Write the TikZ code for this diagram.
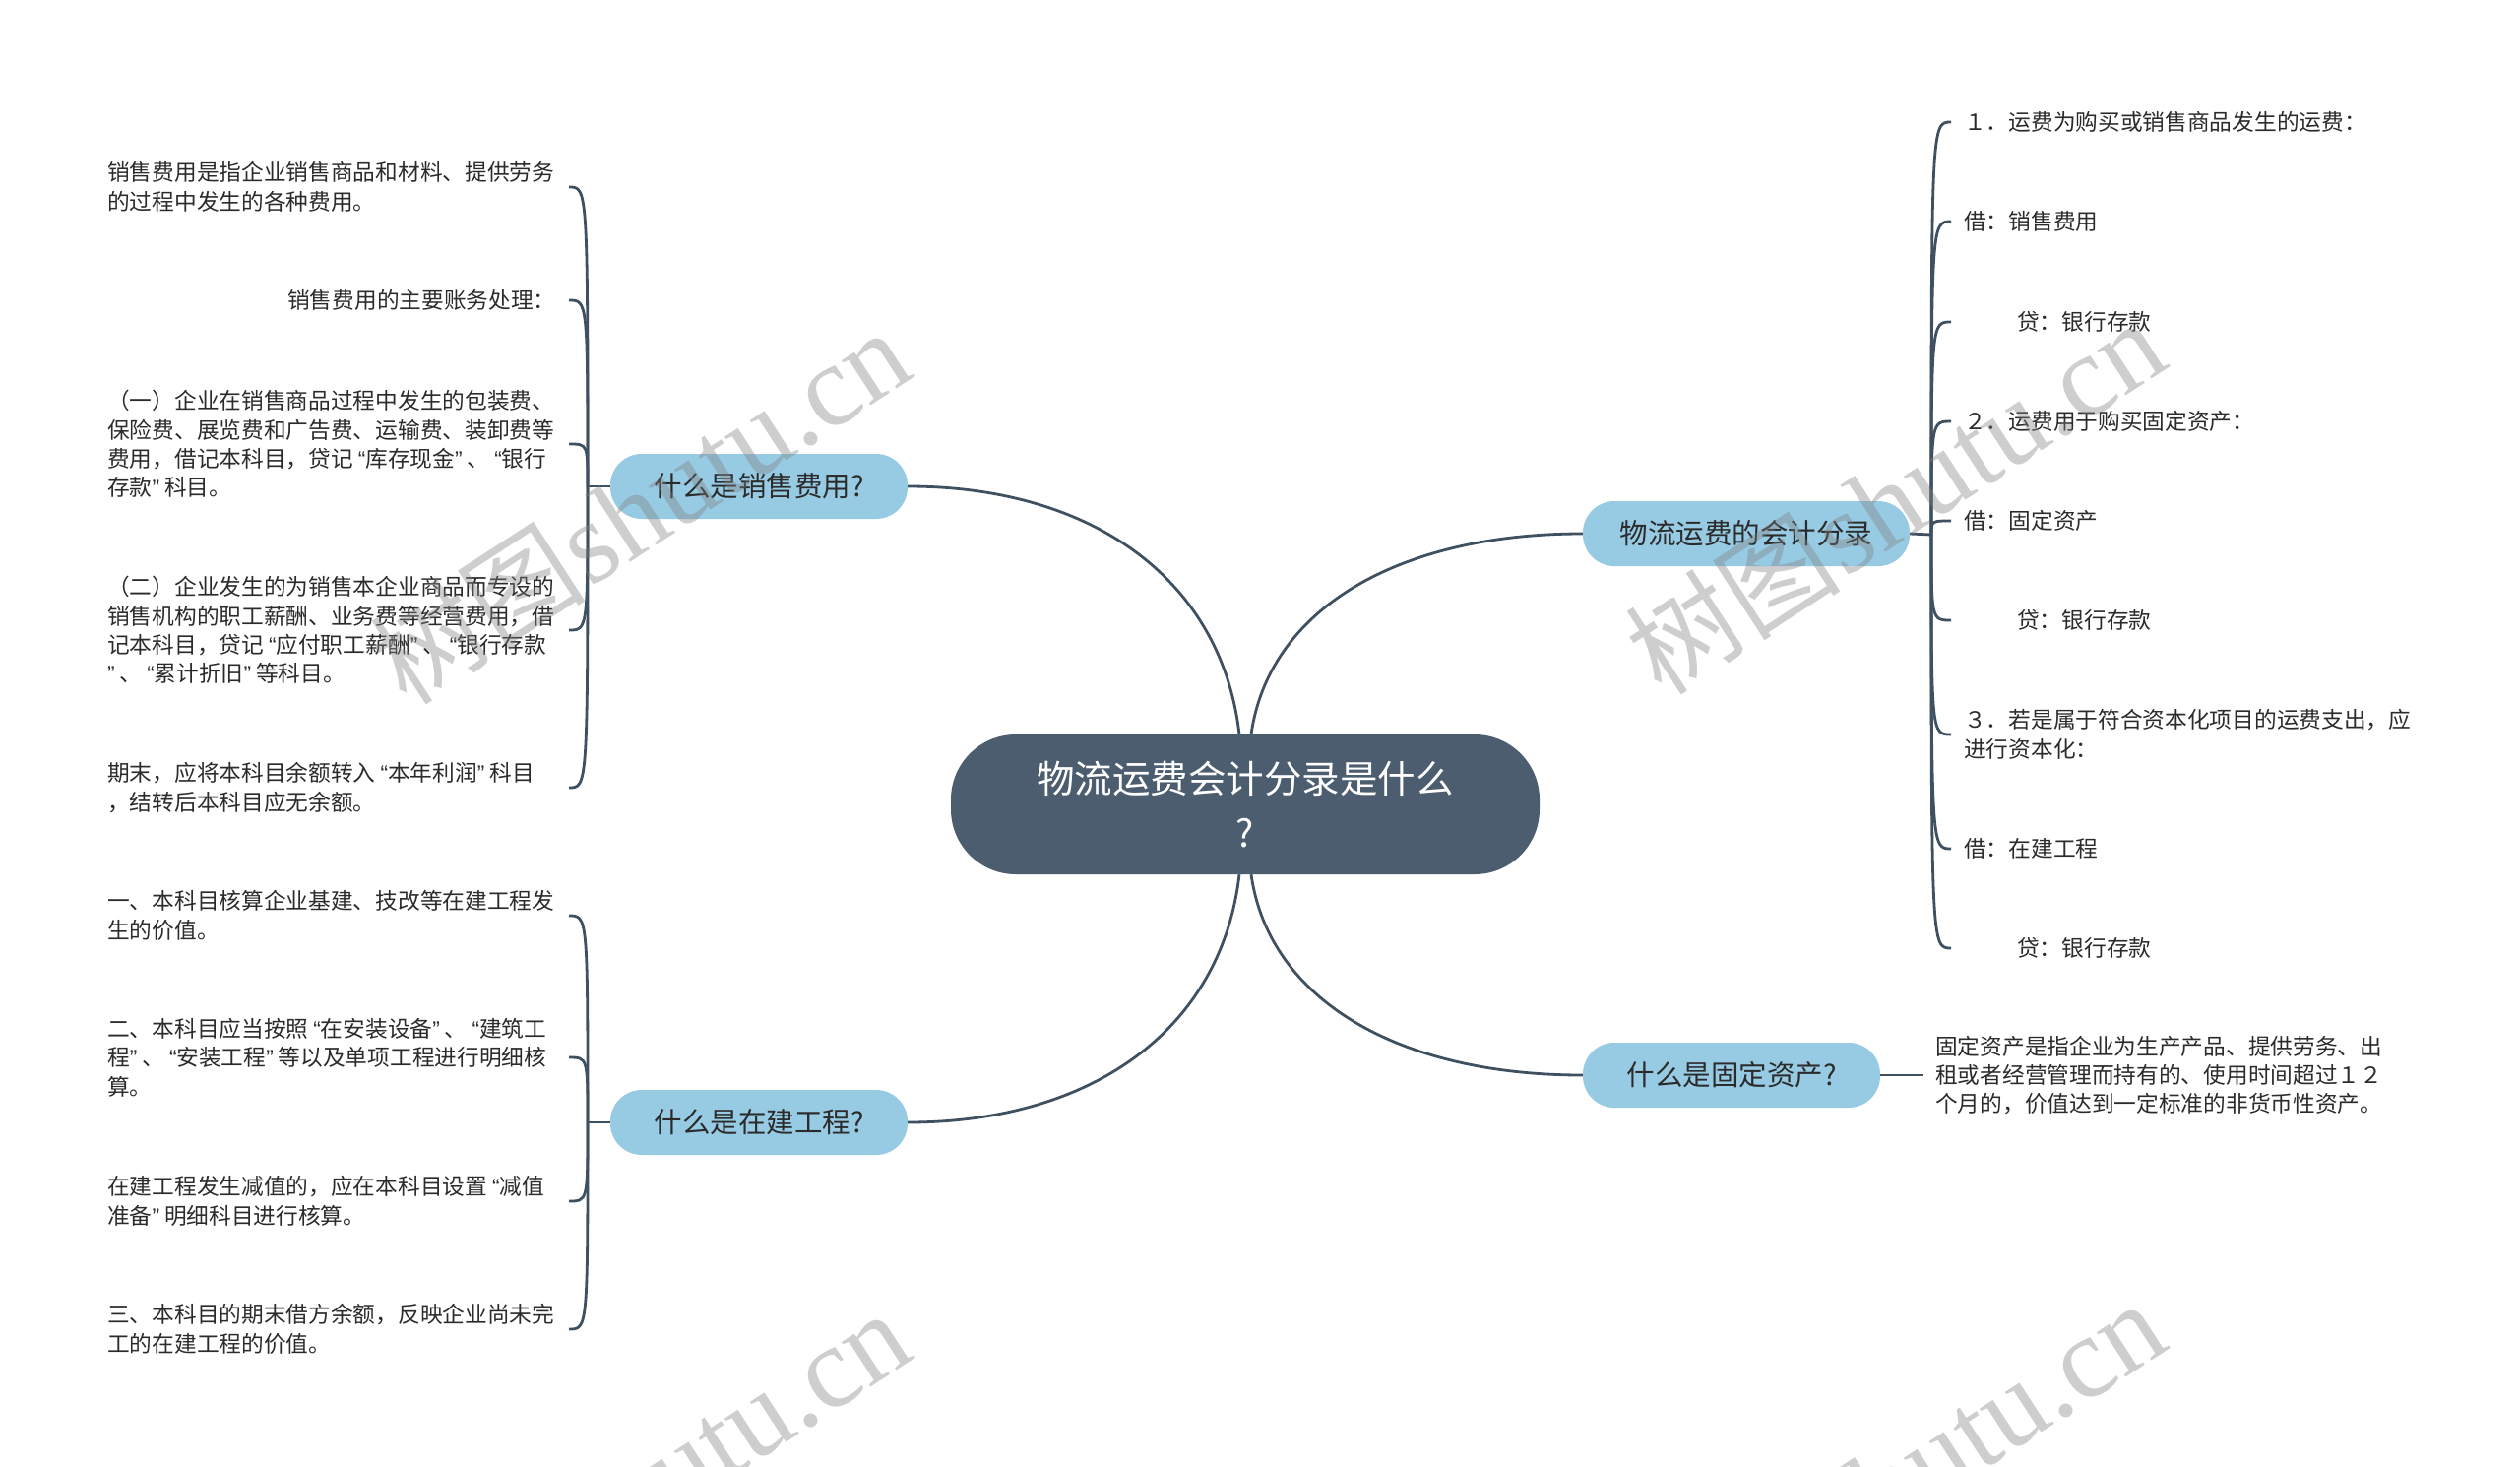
\documentclass[tikz,border=0pt]{standalone}
\usepackage{fontspec}
\setmainfont{Noto Sans CJK SC}
\newfontfamily\wmserif{Liberation Serif}
\newfontfamily\wmcjk{Noto Sans CJK SC}
\newfontfamily\qtfont{Liberation Sans}
\newcommand{\lqt}{\makebox[0.55em][r]{\qtfont “}}
\newcommand{\rqt}{\makebox[0.55em][l]{\qtfont ”}}
\definecolor{centerfill}{HTML}{4B5D6E}
\definecolor{conncol}{HTML}{3F5161}
\definecolor{mainfill}{HTML}{97CBE3}
\definecolor{leaftext}{HTML}{2B2B2B}
\begin{document}
\begin{tikzpicture}[x=1pt,y=-1pt,
  conn/.style={draw=conncol,line width=2.8pt},
  centernode/.style={fill=centerfill, rounded corners=66pt, minimum width=598pt, minimum height=142pt, text=white, font=\fontsize{38.5}{55}\selectfont, align=center, inner sep=0pt},
  mainnode/.style={fill=mainfill, rounded corners=32pt, minimum height=66pt, text=leaftext, font=\fontsize{28.5}{34}\selectfont, inner sep=0pt},
  leaf/.style={anchor=west, align=left, inner sep=0pt, text=leaftext, font=\fontsize{22.7}{29.4}\selectfont},
  wmark/.style={text=black!50, opacity=0.38, rotate=33, inner sep=0pt}
]
\fill[white] (0,0) rectangle (2560,1489);
\useasboundingbox (0,0) rectangle (2560,1489);

% central and main topics
\node[centernode] (c) at (1265,817) {物流运费会计分录是什么\\?};
\node[mainnode, minimum width=302pt] (s1) at (771,494) {什么是销售费用?};
\node[mainnode, minimum width=302pt] (s3) at (771,1140) {什么是在建工程?};
\node[mainnode, minimum width=332pt] (s2) at (1774,542) {物流运费的会计分录};
\node[mainnode, minimum width=302pt] (s4) at (1759,1092) {什么是固定资产?};

% left leaves (sales expenses)
\node[leaf] (L1) at (109,190) {销售费用是指企业销售商品和材料、提供劳务\\的过程中发生的各种费用。};
\node[leaf] (L2) at (292,305) {销售费用的主要账务处理：};
\node[leaf] (L3) at (109,451) {（一）企业在销售商品过程中发生的包装费、\\保险费、展览费和广告费、运输费、装卸费等\\费用，借记本科目，贷记\lqt 库存现金\rqt 、\lqt 银行\\存款\rqt 科目。};
\node[leaf] (L4) at (109,640) {（二）企业发生的为销售本企业商品而专设的\\销售机构的职工薪酬、业务费等经营费用，借\\记本科目，贷记\lqt 应付职工薪酬\rqt 、\lqt 银行存款\\\rqt 、\lqt 累计折旧\rqt 等科目。};
\node[leaf] (L5) at (109,800) {期末，应将本科目余额转入\lqt 本年利润\rqt 科目\\，结转后本科目应无余额。};

% left leaves (construction in progress)
\node[leaf] (M1) at (109,930) {一、本科目核算企业基建、技改等在建工程发\\生的价值。};
\node[leaf] (M2) at (109,1074) {二、本科目应当按照\lqt 在安装设备\rqt 、\lqt 建筑工\\程\rqt 、\lqt 安装工程\rqt 等以及单项工程进行明细核\\算。};
\node[leaf] (M3) at (109,1220) {在建工程发生减值的，应在本科目设置\lqt 减值\\准备\rqt 明细科目进行核算。};
\node[leaf] (M4) at (109,1350) {三、本科目的期末借方余额，反映企业尚未完\\工的在建工程的价值。};

% right leaves (entries)
\node[leaf] (R1) at (1995,124) {１．运费为购买或销售商品发生的运费：};
\node[leaf] (R2) at (1995,225) {借：销售费用};
\node[leaf] (R3) at (2049,327) {贷：银行存款};
\node[leaf] (R4) at (1995,428) {２．运费用于购买固定资产：};
\node[leaf] (R5) at (1995,529) {借：固定资产};
\node[leaf] (R6) at (2049,630) {贷：银行存款};
\node[leaf] (R7) at (1995,746) {３．若是属于符合资本化项目的运费支出，应\\进行资本化：};
\node[leaf] (R8) at (1995,862) {借：在建工程};
\node[leaf] (R9) at (2049,963) {贷：银行存款};

% fixed assets leaf
\node[leaf] (F1) at (1966,1092) {固定资产是指企业为生产产品、提供劳务、出\\租或者经营管理而持有的、使用时间超过１２\\个月的，价值达到一定标准的非货币性资产。};

% junctions
\coordinate (j1) at (597,494);
\coordinate (j3) at (597,1140);
\coordinate (j2) at (1962,543);
\coordinate (e1) at (578,0);
\coordinate (e2) at (1982,0);

% central connectors
\draw[conn] ([xshift=-6pt]c.north) .. controls +(-18,-156) and +(189,0) .. (s1.east);
\draw[conn] ([xshift=6pt]c.north) .. controls +(18,-127) and +(-188,0) .. (s2.west);
\draw[conn] ([xshift=-6pt]c.south) .. controls +(-18,156) and +(189,0) .. (s3.east);
\draw[conn] ([xshift=6pt]c.south) .. controls +(18,127) and +(-188,0) .. (s4.west);

% branch stubs
\draw[conn] (s1.west) -- (j1);
\draw[conn] (s3.west) -- (j3);
\draw[conn] (s2.east) -- (j2);
\draw[conn] (s4.east) -- ([xshift=-12pt]F1.west);

% leaf connectors
\foreach \n in {L1,L2,L3,L4,L5}
  \draw[conn] (j1) .. controls (j1 |- \n) and (j1 |- \n) .. (\n -| e1);
\foreach \n in {M1,M2,M3,M4}
  \draw[conn] (j3) .. controls (j3 |- \n) and (j3 |- \n) .. (\n -| e1);
\foreach \n in {R1,R2,R3,R4,R5,R6,R7,R8,R9}
  \draw[conn] (j2) .. controls (j2 |- \n) and (j2 |- \n) .. (\n -| e2);

% watermarks
\node[wmark] (w1) at (650,515) {{\wmcjk\fontsize{110}{110}\selectfont 树图} {\wmserif\fontsize{118}{118}\selectfont shutu.cn}};
\node[wmark] (w2) at (1925,505) {{\wmcjk\fontsize{110}{110}\selectfont 树图} {\wmserif\fontsize{118}{118}\selectfont shutu.cn}};
\node[wmark] (w3) at (650,1512) {{\wmcjk\fontsize{110}{110}\selectfont 树图} {\wmserif\fontsize{118}{118}\selectfont shutu.cn}};
\node[wmark] (w4) at (1925,1502) {{\wmcjk\fontsize{110}{110}\selectfont 树图} {\wmserif\fontsize{118}{118}\selectfont shutu.cn}};
\end{tikzpicture}
\end{document}
